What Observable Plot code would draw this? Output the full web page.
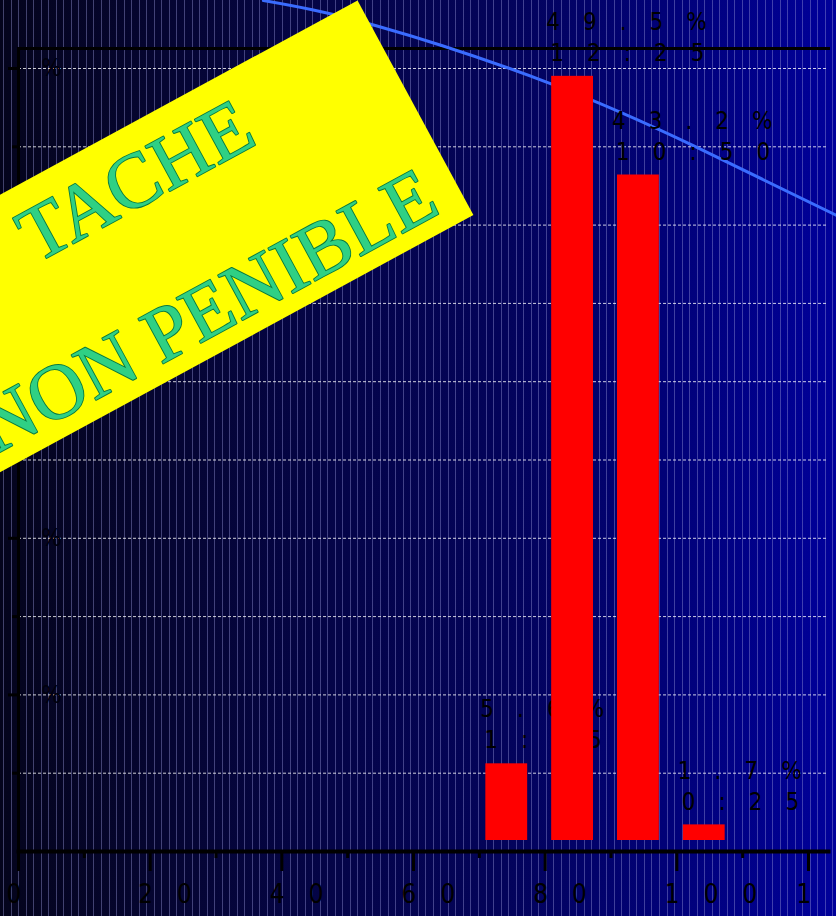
<!DOCTYPE html>
<html><head><meta charset="utf-8">
<script src="https://cdn.jsdelivr.net/npm/d3@7"></script>
<script src="https://cdn.jsdelivr.net/npm/@observablehq/plot@0.6"></script>
<style>
html,body{margin:0;padding:0;width:836px;height:916px;overflow:hidden;}
body{background:
 repeating-linear-gradient(90deg, transparent 0px, transparent 3px, rgba(150,150,215,0.42) 3px, rgba(150,150,215,0.42) 4px, transparent 4px, transparent 7.54px),
 linear-gradient(90deg, #04041c 0%, #050532 20%, #040448 40%, #03035a 60%, #010178 80%, #00009a 100%);}
#chart svg{display:block}
</style></head><body><div id="chart"></div>
<script>
// ---- data ----
const binStart = [70, 80, 90, 100];
const binEnd = [80, 90, 100, 110];
const percents = [5.6, 49.5, 43.2, 1.7];
const percentLabels = ["5.6%", "49.5%", "43.2%", "1.7%"];
const durationLabels = ["1:25", "12:25", "10:50", "0:25"];
const xTicks = [0, 20, 40, 60, 80, 100, 120];
const xMinorTicks = [10, 30, 50, 70, 90, 110];
const yTicks = [10, 20, 30, 40, 50];
const yMinorTicks = [5, 15, 25, 35, 45];
const gridValues = [5, 10, 15, 20, 25, 30, 35, 40, 45, 50];
// decorative arc (in chart units)
const arcX = [37.2, 54.2, 80.8, 102.5, 124.3];
const arcY = [54.34, 52.75, 49.04, 45.08, 40.61];
// banner
const bannerX = [51.5, 69.1, -24.3, -41.9, 51.5];
const bannerY = [54.35, 40.65, 19.3, 33.0, 54.35];
const bannerLines = ["TACHE", "NON PENIBLE"];
const bannerTextX = [17.8, 28.6];
const bannerTextY = [42.8, 34.5];

const data = binStart.map((b, i) => ({b, e: binEnd[i], p: percents[i], pl: percentLabels[i], dl: durationLabels[i]}));
const arc = arcX.map((x, i) => ({x, y: arcY[i]}));
const banner = bannerX.map((x, i) => ({x, y: bannerY[i]}));
const narrow = "Liberation Sans Narrow, DejaVu Sans Condensed, sans-serif";

const chart = Plot.plot({
  width: 836, height: 916,
  marginLeft: 18, marginRight: 8, marginTop: 48, marginBottom: 65,
  x: {domain: [0, 120], range: [18, 808]},
  y: {domain: [0, 50], range: [851, 68]},
  style: {background: "transparent", color: "black", overflow: "visible"},
  marks: [
    Plot.gridY({ticks: gridValues, stroke: "white", strokeOpacity: 0.8, strokeDasharray: "3,2", strokeWidth: 1}),
    Plot.frame({anchor: "top", stroke: "black", strokeWidth: 3}),
    Plot.frame({anchor: "left", stroke: "black", strokeWidth: 3}),
    Plot.frame({anchor: "bottom", stroke: "black", strokeWidth: 4}),
    Plot.line(arc, {x: "x", y: "y", curve: "natural", stroke: "#3a6cff", strokeWidth: 3}),
    Plot.text(data, {x: "b", y: "p", text: "pl", dx: 1, dy: -54, textAnchor: "start", fontSize: 24, fontFamily: narrow, fill: "black"}),
    Plot.text(data, {x: "b", y: "p", text: "dl", dx: 5, dy: -23, textAnchor: "start", fontSize: 24, fontFamily: narrow, fill: "black"}),
    Plot.rectY(data, {x1: "b", x2: "e", y: "p", fill: "red", insetLeft: 6.5, insetRight: 17.5, insetBottom: 11}),
    Plot.axisX({ticks: xTicks, tickSize: 20, strokeWidth: 3, tickFormat: () => "", label: null}),
    Plot.axisX({ticks: xTicks, tickSize: 0, tickPadding: 33, fontSize: 26, fontFamily: narrow, textAnchor: "start", dx: -12, fill: "black", label: null}),
    Plot.axisX({ticks: xMinorTicks, tickSize: 7, strokeWidth: 3, tickFormat: () => "", label: null}),
    Plot.axisY({ticks: yTicks, tickSize: 10, strokeWidth: 3, tickFormat: () => "", label: null}),
    Plot.axisY({ticks: yTicks, tickSize: 0, tickPadding: 0, tickFormat: () => "%", textAnchor: "middle", dx: 33, fontSize: 24, fontFamily: narrow, fill: "#00000c", label: null}),
    Plot.axisY({ticks: yMinorTicks, tickSize: 6, strokeWidth: 3, tickFormat: () => "", label: null}),
    Plot.line(banner, {x: "x", y: "y", fill: "#ffff00", stroke: "none", curve: "linear"}),
    Plot.text(bannerLines, {x: (d, i) => bannerTextX[i], y: (d, i) => bannerTextY[i], text: d => d, rotate: -28.5, fontSize: 78, fontFamily: "Liberation Serif, serif", fill: "#2fd084", stroke: "#0a7a3e", strokeWidth: 1.8})
  ]
});
document.getElementById("chart").append(chart);
const textGroups = d3.select(chart).selectAll('g[aria-label="text"]').nodes();
d3.select(textGroups[0]).attr("letter-spacing", "23px");
d3.select(textGroups[1]).attr("letter-spacing", "23px");
d3.select(chart).selectAll('g[aria-label="x-axis tick label"]').attr("letter-spacing", "24px");
</script></body></html>
